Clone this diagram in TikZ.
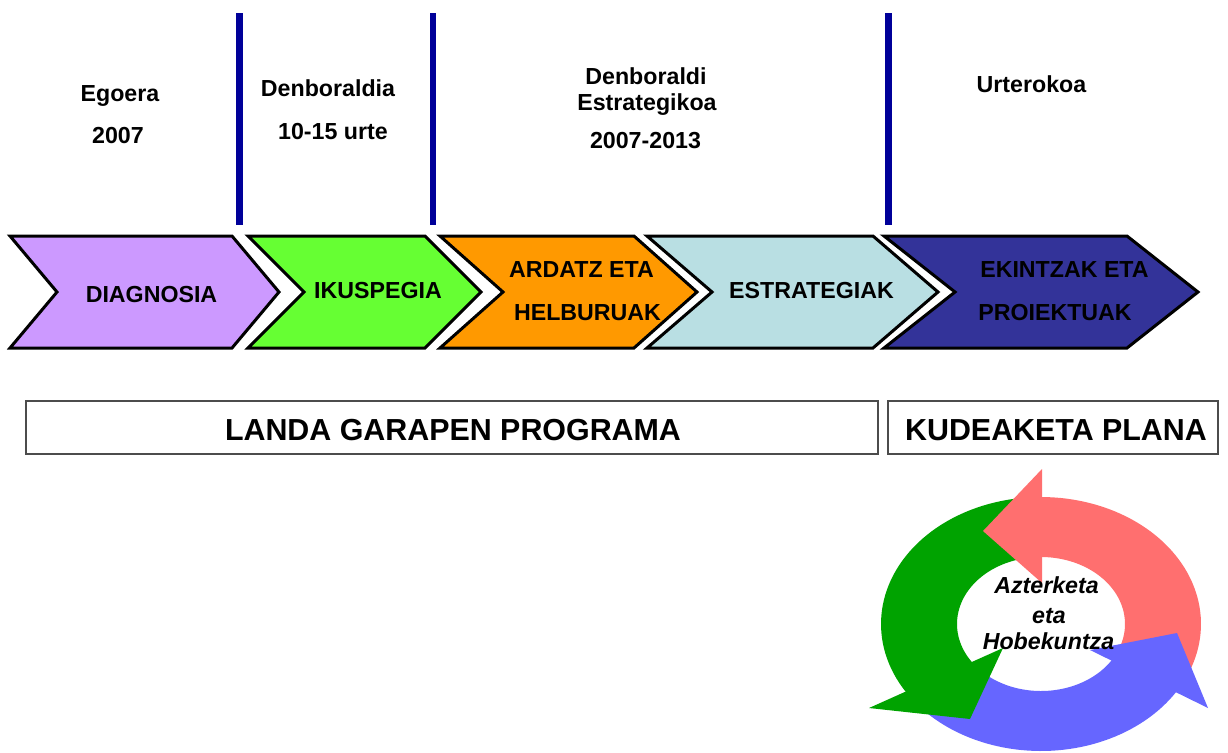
\documentclass[tikz,border=0pt]{standalone}
\usepackage{fontspec}
\setmainfont{Liberation Sans}
\definecolor{cpurple}{RGB}{204,153,255}
\definecolor{cgreenchev}{RGB}{102,255,51}
\definecolor{corange}{RGB}{255,153,0}
\definecolor{clight}{RGB}{185,223,227}
\definecolor{cnavy}{RGB}{51,51,153}
\definecolor{lineblue}{RGB}{0,0,153}
\definecolor{cred}{RGB}{255,111,111}
\definecolor{cgreen}{RGB}{0,163,0}
\definecolor{cblue}{RGB}{102,102,255}
\begin{document}
\begin{tikzpicture}[x=0.5pt,y=-0.5pt,
  lbl/.style={font=\bfseries\fontsize{11.6}{13}\selectfont, inner sep=0pt, anchor=base},
  biglbl/.style={font=\bfseries\fontsize{15.2}{17}\selectfont, inner sep=0pt, anchor=base},
  cyclbl/.style={font=\bfseries\itshape\fontsize{11.6}{13}\selectfont, inner sep=0pt, anchor=base},
  chev/.style={draw=black, line width=1.5pt, line join=miter,
     preaction={draw=white, line width=4.2pt}},
  vline/.style={draw=lineblue, line width=3.2pt},
  framebox/.style={draw=gray!60!black, line width=0.6pt},
]
\useasboundingbox (0,0) rectangle (1228,752);

% vertical separators
\coordinate (v1t) at (239.5,13); \coordinate (v1b) at (239.5,225);
\coordinate (v2t) at (433,13);   \coordinate (v2b) at (433,225);
\coordinate (v3t) at (888.5,13); \coordinate (v3b) at (888.5,225);
\draw[vline] (v1t) -- (v1b);
\draw[vline] (v2t) -- (v2b);
\draw[vline] (v3t) -- (v3b);

% top labels
\node[lbl] (egoera) at (120,101.5) {Egoera};
\node[lbl] (y2007) at (118,143) {2007};
\node[lbl] (denb) at (328,96) {Denboraldia};
\node[lbl] (urte) at (333,139) {10-15 urte};
\node[lbl] (denb2) at (646,84) {Denboraldi};
\node[lbl] (estrk) at (647,110) {Estrategikoa};
\node[lbl] (y0713) at (645.5,148) {2007-2013};
\node[lbl] (urtero) at (1031.5,92) {Urterokoa};

% chevrons
\draw[chev, fill=cpurple] (10,236) -- (232,236) -- (279,292) -- (232,348) -- (10,348) -- (57,292) -- cycle;
\draw[chev, fill=cgreenchev] (248,236) -- (425,236) -- (481,292) -- (425,348) -- (248,348) -- (304,292) -- cycle;
\draw[chev, fill=corange] (440,236) -- (634,236) -- (697,292) -- (634,348) -- (440,348) -- (503,292) -- cycle;
\draw[chev, fill=clight] (647,236) -- (873,236) -- (938,292) -- (873,348) -- (647,348) -- (712,292) -- cycle;
\draw[chev, fill=cnavy] (884,236) -- (1127,236) -- (1198,292) -- (1127,348) -- (884,348) -- (955,292) -- cycle;

\node[lbl] (diag) at (151.5,302) {DIAGNOSIA};
\node[lbl] (ikus) at (378,298) {IKUSPEGIA};
\node[lbl] (ardatz) at (581.5,277) {ARDATZ ETA};
\node[lbl] (helb) at (587.5,320) {HELBURUAK};
\node[lbl] (estr) at (811.5,298) {ESTRATEGIAK};
\node[lbl] (ekin) at (1064.5,277) {EKINTZAK ETA};
\node[lbl] (proi) at (1055,320) {PROIEKTUAK};

% bottom boxes
\draw[framebox] (26,401) rectangle (878,454);
\draw[framebox] (888,401) rectangle (1218,454);
\node[biglbl] (landa) at (453,440) {LANDA GARAPEN PROGRAMA};
\node[biglbl] (kude) at (1056,440) {KUDEAKETA PLANA};

% cycle arrows: bodies
\fill[cred] plot[domain=-22:90, samples=50, variable=\t] ({1041+160*cos(\t)},{624-127*sin(\t)})
  -- plot[domain=90:-22, samples=50, variable=\t] ({1041+84*cos(\t)},{624-67*sin(\t)}) -- cycle;
\fill[cblue] plot[domain=222:328, samples=50, variable=\t] ({1041+160*cos(\t)},{624-127*sin(\t)})
  -- plot[domain=328:222, samples=50, variable=\t] ({1041+84*cos(\t)},{624-67*sin(\t)}) -- cycle;
\fill[cgreen] plot[domain=97:215, samples=50, variable=\t] ({1041+160*cos(\t)},{624-127*sin(\t)})
  -- plot[domain=215:97, samples=50, variable=\t] ({1041+84*cos(\t)},{624-67*sin(\t)}) -- cycle;
% heads
\fill[cred] (1042,469) -- (983,531) -- (1042,583) -- cycle;
\fill[cgreen] (869,708) -- (970,719) -- (1003,648) -- cycle;
\fill[cblue] (1090,650) -- (1177,633) -- (1208,708) -- cycle;

\node[cyclbl] (azt) at (1046.5,593) {Azterketa};
\node[cyclbl] (eta) at (1049,623) {eta};
\node[cyclbl] (hobe) at (1048.5,649) {Hobekuntza};
\end{tikzpicture}
\end{document}
